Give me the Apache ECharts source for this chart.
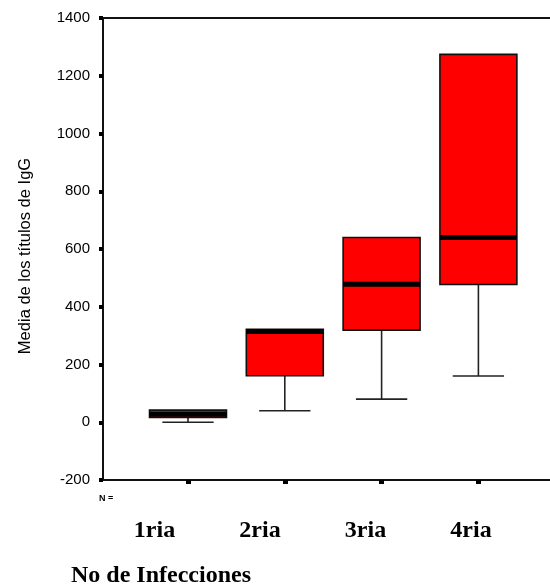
<!DOCTYPE html>
<html>
<head>
<meta charset="utf-8">
<script src="https://cdn.jsdelivr.net/npm/echarts@6/dist/echarts.min.js"></script>
<style>
html,body{margin:0;padding:0;background:#fff;}
#chart{width:550px;height:584px;}
</style>
</head>
<body>
<div id="chart"></div>
<script>
// ---- data ----
const categories = ['1ria', '2ria', '3ria', '4ria'];
const whiskerLow = [0, 40, 80, 160];
const q1 = [17, 161, 319, 477];
const median = [28, 314, 478, 640];
const q3 = [42, 322, 640, 1274];
const whiskerHigh = [42, 322, 640, 1274];
const yTicks = [-200, 0, 200, 400, 600, 800, 1000, 1200, 1400];
const yTitle = 'Media de los títulos de IgG';
const xTitle = 'No de Infecciones';
const nLabel = 'N =';

const boxData = categories.map((c, i) => [i, whiskerLow[i], q1[i], median[i], q3[i], whiskerHigh[i]]);

const yMin = yTicks[0], yMax = yTicks[yTicks.length - 1];
const narrow = "'Liberation Sans Narrow', 'Liberation Sans', Arial, sans-serif";
const serif = "'Liberation Serif', 'Times New Roman', serif";

const chart = echarts.init(document.getElementById('chart'), null, {renderer: 'canvas'});

const option = {
  backgroundColor: '#ffffff',
  animation: false,
  title: [
    {text: nLabel, left: 94, top: 489, textStyle: {fontSize: 9, fontWeight: 'bold', color: '#000', fontFamily: 'Liberation Sans, sans-serif'}},
    {text: xTitle, left: 66, top: 559, textStyle: {fontSize: 24, fontWeight: 'bold', color: '#000', fontFamily: serif}}
  ],
  grid: [
    {left: 103, right: 0, top: 18, bottom: 104},
    {left: 139.6, width: 387.2, top: 18, bottom: 104},
    {left: 101.75, width: 422, top: 18, bottom: 104}
  ],
  xAxis: [
    {gridIndex: 0, type: 'value', min: 0, max: 1, position: 'bottom',
     axisLine: {show: true, onZero: false, lineStyle: {color: '#111', width: 2}}, axisTick: {show: false},
     axisLabel: {show: false}, splitLine: {show: false}},
    {gridIndex: 0, type: 'value', min: 0, max: 1, position: 'top',
     axisLine: {show: true, onZero: false, lineStyle: {color: '#111', width: 2}}, axisTick: {show: false},
     axisLabel: {show: false}, splitLine: {show: false}},
    {gridIndex: 1, type: 'category', data: categories, boundaryGap: true, position: 'bottom',
     axisLine: {show: false, onZero: false},
     axisTick: {show: true, alignWithLabel: true, length: 4, lineStyle: {color: '#000', width: 5}},
     axisLabel: {show: false}, splitLine: {show: false}},
    {gridIndex: 2, type: 'category', data: categories, boundaryGap: true, position: 'bottom',
     axisLine: {show: false, onZero: false}, axisTick: {show: false},
     axisLabel: {show: true, margin: 39, color: '#000', fontSize: 24, fontWeight: 'bold', fontFamily: serif},
     splitLine: {show: false}}
  ],
  yAxis: [
    {gridIndex: 0, type: 'value', min: yMin, max: yMax, interval: 200,
     name: yTitle, nameLocation: 'middle', nameGap: 69,
     nameTextStyle: {fontSize: 16.5, color: '#000', fontFamily: narrow, padding: [0, 14, 0, 0]},
     axisLine: {show: true, onZero: false, lineStyle: {color: '#111', width: 2}},
     axisTick: {show: true, length: 4, lineStyle: {color: '#000', width: 4}},
     axisLabel: {margin: 13, color: '#000', fontSize: 15, fontFamily: narrow,
                 formatter: function (v) { return String(v); }},
     splitLine: {show: false}},
    {gridIndex: 1, type: 'value', min: yMin, max: yMax, show: false, splitLine: {show: false}},
    {gridIndex: 2, type: 'value', min: yMin, max: yMax, show: false, splitLine: {show: false}}
  ],
  series: [{
    type: 'custom',
    xAxisIndex: 2,
    yAxisIndex: 1,
    data: boxData,
    encode: {x: 0, y: [1, 2, 3, 4, 5]},
    renderItem: function (params, api) {
      const xi = api.value(0);
      const pMin = api.coord([xi, api.value(1)]);
      const pQ1 = api.coord([xi, api.value(2)]);
      const pMed = api.coord([xi, api.value(3)]);
      const pQ3 = api.coord([xi, api.value(4)]);
      const pMax = api.coord([xi, api.value(5)]);
      const band = api.size([1, 0])[0];
      const bw = band * 0.795;
      const ww = band * 0.53;
      const cx = pQ1[0];
      const children = [];
      const wStyle = {stroke: '#222', lineWidth: 1.6};
      if (pMin[1] - pQ1[1] > 0.5) {
        children.push({type: 'line', shape: {x1: cx, y1: pQ1[1], x2: cx, y2: pMin[1]}, style: wStyle});
      }
      children.push({type: 'line', shape: {x1: cx - ww / 2, y1: pMin[1], x2: cx + ww / 2, y2: pMin[1]}, style: wStyle});
      if (pQ3[1] - pMax[1] > 0.5) {
        children.push({type: 'line', shape: {x1: cx, y1: pQ3[1], x2: cx, y2: pMax[1]}, style: wStyle});
        children.push({type: 'line', shape: {x1: cx - ww / 2, y1: pMax[1], x2: cx + ww / 2, y2: pMax[1]}, style: wStyle});
      }
      children.push({type: 'rect', shape: {x: cx - bw / 2, y: pQ3[1], width: bw, height: pQ1[1] - pQ3[1]},
        style: {fill: '#ff0000', stroke: '#111', lineWidth: 1.6}});
      children.push({type: 'line', shape: {x1: cx - bw / 2, y1: pMed[1], x2: cx + bw / 2, y2: pMed[1]},
        style: {stroke: '#000', lineWidth: 5}});
      return {type: 'group', children: children};
    }
  }]
};
chart.setOption(option);
</script>
</body>
</html>
